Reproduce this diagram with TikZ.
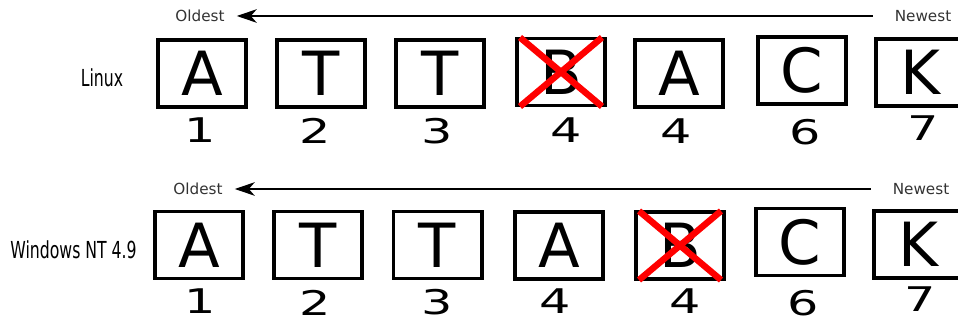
\documentclass[tikz,border=0pt]{standalone}
\usepackage{fontspec}
\setmainfont{DejaVu Sans}
\newfontfamily\digitfont[FakeStretch=1.45]{DejaVu Sans}
\newfontfamily\narrowfont[FakeStretch=0.67]{DejaVu Sans}
\usetikzlibrary{arrows.meta}

\begin{document}
\begin{tikzpicture}[
    x=0.03cm, y=-0.03cm,
    cell/.style={rectangle, draw, line width=3.4pt, inner sep=0pt,
                 minimum width=2.64cm, minimum height=2.01cm,
                 font=\fontsize{52}{60}\selectfont},
    num/.style={inner sep=0pt, font=\digitfont\fontsize{29}{32}\selectfont},
    tag/.style={inner sep=0pt, text=black!80, font=\fontsize{13}{15}\selectfont},
    os/.style={inner sep=0pt, font=\narrowfont\fontsize{20}{24}\selectfont},
    arr/.style={-{Stealth[length=17pt, width=11.5pt, inset=5pt]}, line width=1.7pt,
                shorten >=10.2pt, shorten <=18.8pt},
    gone/.style={red, line width=5.5pt}
]
  \useasboundingbox (0,0) rectangle (958,320);

  % Linux
  \node[tag] (lold) at (200,16) {Oldest};
  \node[tag] (lnew) at (923,16) {Newest};
  \draw[arr] (lnew.west) -- (lold.east);
  \node[os] (linux) at (102,78) {Linux};

  \node[cell] (l1) at (202,73.5) {A};
  \node[cell] (l2) at (321,73.5) {T};
  \node[cell] (l3) at (440,73.5) {T};
  \node[cell] (l4) at (561,72)   {B};
  \node[cell] (l5) at (679,73.5) {A};
  \node[cell] (l6) at (801.5,70.5) {C};
  \node[cell] (l7) at (920,72.5) {K};

  \node[num] (ln1) at (200,130) {1};
  \node[num] (ln2) at (315,131) {2};
  \node[num] (ln3) at (437,131) {3};
  \node[num] (ln4) at (566,130) {4};
  \node[num] (ln5) at (676,131) {4};
  \node[num] (ln6) at (805,132) {6};
  \node[num] (ln7) at (923,128) {7};

  \draw[gone] ([shift={(5,1)}]l4.north west) -- ([shift={(-5,-1)}]l4.south east);
  \draw[gone] ([shift={(-5,1)}]l4.north east) -- ([shift={(5,-1)}]l4.south west);

  % Windows NT 4.9
  \node[tag] (wold) at (198,189) {Oldest};
  \node[tag] (wnew) at (921,189) {Newest};
  \draw[arr] (wnew.west) -- (wold.east);
  \node[os] (windows) at (73.5,250) {Windows NT 4.9};

  \node[cell] (w1) at (199,245)   {A};
  \node[cell] (w2) at (318,245)   {T};
  \node[cell] (w3) at (437.5,245) {T};
  \node[cell] (w4) at (559,245.5) {A};
  \node[cell] (w5) at (680,245.5) {B};
  \node[cell] (w6) at (799.5,242) {C};
  \node[cell] (w7) at (918,244.5) {K};

  \node[num] (wn1) at (200,301.5) {1};
  \node[num] (wn2) at (315,303) {2};
  \node[num] (wn3) at (437,302.5) {3};
  \node[num] (wn4) at (555,301) {4};
  \node[num] (wn5) at (685,301) {4};
  \node[num] (wn6) at (803,303.5) {6};
  \node[num] (wn7) at (920,299) {7};

  \draw[gone] ([shift={(5,1)}]w5.north west) -- ([shift={(-5,-1)}]w5.south east);
  \draw[gone] ([shift={(-5,1)}]w5.north east) -- ([shift={(5,-1)}]w5.south west);
\end{tikzpicture}
\end{document}
